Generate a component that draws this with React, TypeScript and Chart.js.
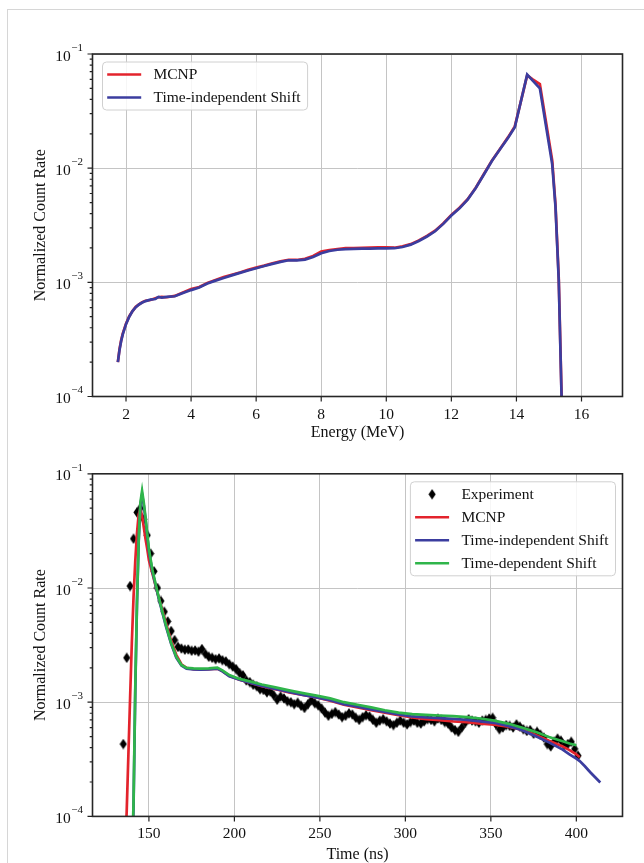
import React, { useEffect, useRef } from 'react';
import { Chart, registerables } from 'chart.js';

Chart.register(...registerables);

const FONT = '"Liberation Serif", "Times New Roman", serif';
const TEXT = '#111111';
const GRID = '#c4c4c4';
const RED = '#e3232c';
const BLUE = '#3b3d9f';
const GREEN = '#2fb54a';

// ---------- axis ticks ----------
const energyTicks = [2, 4, 6, 8, 10, 12, 14, 16];
const timeTicks = [150, 200, 250, 300, 350, 400];
const decadeTicks = [1e-4, 1e-3, 1e-2, 1e-1];

// ---------- top panel: energy spectrum ----------
const energyMeV = [
  1.75, 1.8, 1.85, 1.9, 2.0, 2.1, 2.2, 2.3, 2.4, 2.5, 2.6, 2.75, 2.9, 3.0, 3.1, 3.25,
  3.5, 3.75, 4.0, 4.25, 4.5, 4.75, 5.0, 5.25, 5.5, 5.75, 6.0, 6.25, 6.5, 6.75, 7.0, 7.25,
  7.5, 7.75, 8.0, 8.25, 8.5, 8.75, 9.0, 9.25, 9.5, 9.75, 10.0, 10.25, 10.5, 10.75, 11.0, 11.25,
  11.5, 11.75, 12.0, 12.25, 12.5, 12.75, 13.0, 13.25, 13.5, 13.75, 13.95, 14.33, 14.5, 14.72,
  15.1, 15.2, 15.3, 15.38, 15.45,
];
const mcnpEnergyRate = [
  2.0e-4, 2.6e-4, 3.1e-4, 3.55e-4, 4.35e-4, 5.05e-4, 5.6e-4, 6.1e-4, 6.4e-4, 6.7e-4, 6.9e-4, 7.0e-4, 7.25e-4, 7.4e-4, 7.45e-4, 7.4e-4,
  7.6e-4, 8.15e-4, 8.75e-4, 9.1e-4, 9.85e-4, 1.05e-3, 1.11e-3, 1.165e-3, 1.22e-3, 1.285e-3, 1.345e-3, 1.4e-3, 1.47e-3, 1.53e-3, 1.575e-3, 1.57e-3,
  1.61e-3, 1.7e-3, 1.86e-3, 1.92e-3, 1.96e-3, 1.99e-3, 1.99e-3, 2.0e-3, 2.01e-3, 2.02e-3, 2.02e-3, 2.01e-3, 2.07e-3, 2.16e-3, 2.33e-3, 2.55e-3,
  2.83e-3, 3.28e-3, 3.9e-3, 4.5e-3, 5.35e-3, 6.75e-3, 8.9e-3, 1.17e-2, 1.48e-2, 1.88e-2, 2.32e-2, 6.5e-2, 6.0e-2, 5.45e-2,
  1.17e-2, 4.8e-3, 1.1e-3, 1.25e-4, 2.2e-5,
];
const shiftEnergyRate = [
  2.0e-4, 2.55e-4, 3.05e-4, 3.5e-4, 4.3e-4, 5.0e-4, 5.6e-4, 6.05e-4, 6.4e-4, 6.65e-4, 6.85e-4, 7.05e-4, 7.15e-4, 7.45e-4, 7.35e-4, 7.45e-4,
  7.55e-4, 8.05e-4, 8.55e-4, 9.0e-4, 9.75e-4, 1.035e-3, 1.09e-3, 1.15e-3, 1.21e-3, 1.27e-3, 1.33e-3, 1.39e-3, 1.45e-3, 1.51e-3, 1.56e-3, 1.56e-3,
  1.58e-3, 1.67e-3, 1.8e-3, 1.88e-3, 1.93e-3, 1.95e-3, 1.96e-3, 1.97e-3, 1.97e-3, 1.98e-3, 1.98e-3, 1.99e-3, 2.04e-3, 2.14e-3, 2.3e-3, 2.52e-3,
  2.8e-3, 3.25e-3, 3.85e-3, 4.45e-3, 5.3e-3, 6.7e-3, 8.8e-3, 1.16e-2, 1.47e-2, 1.86e-2, 2.28e-2, 6.6e-2, 5.85e-2, 5.0e-2,
  1.08e-2, 4.6e-3, 1.05e-3, 1.2e-4, 2e-5,
];

// ---------- bottom panel: time spectrum ----------
const simTimeNs = [
  130, 134, 136, 137, 138, 139, 140, 141, 142, 143, 144, 145, 146, 147, 148, 149,
  150, 152, 154, 156, 158, 160, 163, 166, 169, 172, 176, 180, 185, 190, 193, 197,
  203, 209, 216, 224, 232, 240, 248, 256, 264, 272, 280, 288, 296, 304, 312, 320,
  328, 336, 344, 352, 360, 368, 376, 384, 392, 396, 400, 402, 405, 408, 411, 414,
];
const mcnpTimeRate = [
  1e-6, 1.5e-5, 5e-5, 1.1e-4, 3.5e-4, 1.1e-3, 3.3e-3, 8.3e-3, 1.7e-2, 3.0e-2, 4.4e-2, 4.9e-2, 4.3e-2, 3.4e-2, 2.7e-2, 2.2e-2,
  1.75e-2, 1.35e-2, 1.03e-2, 8.0e-3, 6.3e-3, 4.9e-3, 3.45e-3, 2.6e-3, 2.15e-3, 2.0e-3, 1.95e-3, 1.94e-3, 1.95e-3, 1.97e-3, 1.87e-3, 1.7e-3,
  1.57e-3, 1.48e-3, 1.38e-3, 1.3e-3, 1.22e-3, 1.16e-3, 1.1e-3, 1.03e-3, 9.5e-4, 9.0e-4, 8.5e-4, 8.1e-4, 7.7e-4, 7.35e-4, 7.1e-4, 6.95e-4,
  6.8e-4, 6.7e-4, 6.5e-4, 6.35e-4, 6.1e-4, 5.75e-4, 5.2e-4, 4.6e-4, 4.1e-4, 3.8e-4, 3.5e-4, 3.3e-4, null, null, null, null,
];
const tiShiftTimeRate = [
  null, null, null, 3e-6, 8e-6, 2e-5, 3.5e-5, 1.2e-4, 1.2e-3, 7.0e-3, 2.5e-2, 5.3e-2, 6.6e-2, 5.3e-2, 4.0e-2, 2.9e-2,
  2.1e-2, 1.4e-2, 1.04e-2, 7.8e-3, 6.0e-3, 4.6e-3, 3.25e-3, 2.45e-3, 2.1e-3, 1.97e-3, 1.94e-3, 1.93e-3, 1.94e-3, 1.97e-3, 1.86e-3, 1.69e-3,
  1.57e-3, 1.48e-3, 1.39e-3, 1.31e-3, 1.23e-3, 1.16e-3, 1.1e-3, 1.04e-3, 9.6e-4, 9.15e-4, 8.65e-4, 8.2e-4, 7.8e-4, 7.5e-4, 7.35e-4, 7.25e-4,
  7.15e-4, 7.0e-4, 6.8e-4, 6.6e-4, 6.2e-4, 5.7e-4, 5.05e-4, 4.45e-4, 3.85e-4, 3.5e-4, 3.2e-4, 3.05e-4, 2.75e-4, 2.45e-4, 2.2e-4, 1.98e-4,
];
const tdShiftTimeRate = [
  null, null, null, 4e-6, 1e-5, 2.5e-5, 4e-5, 1.3e-4, 1.3e-3, 7.5e-3, 2.6e-2, 5.6e-2, 7.1e-2, 5.6e-2, 4.2e-2, 3.0e-2,
  2.2e-2, 1.45e-2, 1.07e-2, 8.0e-3, 6.1e-3, 4.7e-3, 3.3e-3, 2.5e-3, 2.12e-3, 2.0e-3, 1.98e-3, 1.97e-3, 1.98e-3, 2.01e-3, 1.9e-3, 1.73e-3,
  1.6e-3, 1.52e-3, 1.43e-3, 1.35e-3, 1.27e-3, 1.2e-3, 1.14e-3, 1.08e-3, 1.0e-3, 9.5e-4, 9.0e-4, 8.5e-4, 8.1e-4, 7.85e-4, 7.75e-4, 7.65e-4,
  7.55e-4, 7.4e-4, 7.2e-4, 6.9e-4, 6.5e-4, 6.0e-4, 5.5e-4, 4.95e-4, 4.55e-4, 4.35e-4, 4.2e-4, null, null, null, null, null,
];
// experiment: [time (ns), normalized count rate]
const experimentPoints: [number, number][] = [
  [135, 4.3e-4], [137, 2.45e-3], [139, 1.04e-2], [141, 2.7e-2], [143, 4.6e-2], [145, 5.0e-2], [147, 4.0e-2], [149, 2.9e-2],
  [151, 2.0e-2], [153, 1.4e-2], [155, 1.0e-2], [157, 7.7e-3], [159, 6.2e-3], [161, 5.1e-3], [163, 4.2e-3], [165, 3.5e-3],
  [167, 3.05e-3], [169, 2.95e-3], [171, 2.88e-3], [173, 2.9e-3], [175, 2.82e-3], [177, 2.84e-3], [179, 2.77e-3], [181, 2.92e-3],
  [183, 2.65e-3], [185, 2.5e-3], [187, 2.45e-3], [189, 2.38e-3], [191, 2.42e-3], [193, 2.33e-3], [195, 2.28e-3], [197, 2.15e-3],
  [199, 2.05e-3], [201, 1.95e-3], [203, 1.8e-3], [205, 1.72e-3], [207, 1.55e-3], [209, 1.5e-3], [211, 1.42e-3], [213, 1.38e-3],
  [215, 1.3e-3], [217, 1.28e-3], [219, 1.22e-3], [221, 1.24e-3], [223, 1.15e-3], [225, 1.05e-3], [227, 1.12e-3], [229, 1.08e-3],
  [231, 1.02e-3], [233, 1.0e-3], [235, 9.6e-4], [237, 9.9e-4], [239, 9.3e-4], [241, 8.9e-4], [243, 9.6e-4], [245, 1.04e-3],
  [247, 9.8e-4], [249, 9.4e-4], [251, 8.8e-4], [253, 8.1e-4], [255, 7.6e-4], [257, 7.9e-4], [259, 8.2e-4], [261, 7.8e-4],
  [263, 7.4e-4], [265, 7.6e-4], [267, 8.0e-4], [269, 7.8e-4], [271, 7.3e-4], [273, 7.0e-4], [275, 7.4e-4], [277, 7.7e-4],
  [279, 7.5e-4], [281, 7.0e-4], [283, 6.6e-4], [285, 6.9e-4], [287, 7.1e-4], [289, 6.8e-4], [291, 6.5e-4], [293, 6.3e-4],
  [295, 6.6e-4], [297, 6.9e-4], [299, 6.6e-4], [301, 6.4e-4], [303, 6.7e-4], [305, 6.9e-4], [307, 6.6e-4], [309, 6.5e-4],
  [311, 6.8e-4], [313, 7.1e-4], [315, 7.0e-4], [317, 6.8e-4], [319, 7.2e-4], [321, 7.0e-4], [323, 6.7e-4], [325, 6.5e-4],
  [327, 6.0e-4], [329, 5.7e-4], [331, 5.5e-4], [333, 6.0e-4], [335, 6.6e-4], [337, 7.1e-4], [339, 6.9e-4], [341, 6.8e-4],
  [343, 6.6e-4], [345, 6.9e-4], [347, 7.0e-4], [349, 7.2e-4], [351, 7.3e-4], [353, 6.4e-4], [355, 5.8e-4], [357, 6.0e-4],
  [359, 6.3e-4], [361, 6.2e-4], [363, 6.0e-4], [365, 6.4e-4], [367, 6.1e-4], [369, 5.8e-4], [371, 5.6e-4], [373, 5.7e-4],
  [375, 5.3e-4], [377, 5.5e-4], [379, 5.2e-4], [381, 4.9e-4], [383, 4.3e-4], [385, 4.1e-4], [387, 4.5e-4], [389, 4.8e-4],
  [391, 4.6e-4], [393, 4.2e-4], [395, 4.3e-4], [397, 4.5e-4], [399, 3.9e-4], [401, 3.4e-4],
];

// ---------- helpers ----------
function pairs(xs: number[], ys: (number | null)[]) {
  return xs.map((x, i) => ({ x, y: ys[i] }));
}

function makeDiamond(): HTMLCanvasElement {
  const c = document.createElement('canvas');
  c.width = 8;
  c.height = 11;
  const g = c.getContext('2d')!;
  g.fillStyle = '#000';
  g.beginPath();
  g.moveTo(4, 0.2);
  g.lineTo(7.6, 5.5);
  g.lineTo(4, 10.8);
  g.lineTo(0.4, 5.5);
  g.closePath();
  g.fill();
  return c;
}

const decorPlugin = {
  id: 'decor',
  afterDraw(chart: any, _args: any, opts: any) {
    const { ctx, chartArea: a } = chart;
    const xs = chart.scales.x;
    const ys = chart.scales.y;
    ctx.save();

    // tick marks (outward): x majors, y majors + minors
    ctx.strokeStyle = '#222';
    ctx.lineWidth = 1.2;
    ctx.beginPath();
    xs.ticks.forEach((t: any) => {
      const px = xs.getPixelForValue(t.value);
      ctx.moveTo(px, a.bottom);
      ctx.lineTo(px, a.bottom + 5);
    });
    const lo = Math.round(Math.log10(ys.min));
    const hi = Math.round(Math.log10(ys.max));
    for (let k = lo; k <= hi; k++) {
      for (let m = 1; m <= 9; m++) {
        const v = m * Math.pow(10, k);
        if (v < ys.min * 0.999 || v > ys.max * 1.001) continue;
        const py = ys.getPixelForValue(v);
        const len = m === 1 ? 5 : 2.8;
        ctx.moveTo(a.left - len, py);
        ctx.lineTo(a.left, py);
      }
    }
    ctx.stroke();

    // axes frame
    ctx.strokeStyle = '#262626';
    ctx.lineWidth = 1.6;
    ctx.strokeRect(a.left, a.top, a.right - a.left, a.bottom - a.top);

    // y tick labels 10^n
    ctx.fillStyle = TEXT;
    ctx.textAlign = 'right';
    ctx.textBaseline = 'middle';
    ys.ticks.forEach((t: any) => {
      const py = ys.getPixelForValue(t.value);
      const e = Math.round(Math.log10(t.value));
      const sup = (e < 0 ? '\u2212' : '') + Math.abs(e);
      const right = a.left - 9.5;
      ctx.font = `11px ${FONT}`;
      const supW = ctx.measureText(sup).width;
      ctx.fillText(sup, right, py - 6);
      ctx.font = `15.5px ${FONT}`;
      ctx.fillText('10', right - supW - 0.5, py + 2.5);
    });

    // legend
    const items = chart.data.datasets.map((ds: any) => ({
      label: ds.label,
      color: ds.borderColor,
      marker: ds.showLine === false ? ds.pointStyle : null,
    }));
    ctx.font = `15.5px ${FONT}`;
    const textW = Math.max(...items.map((it: any) => ctx.measureText(it.label).width));
    const textOff = 51;
    const boxW = textOff + textW + 7;
    const rowH = 23;
    const padV = 12.5;
    const boxH = padV * 2 + rowH * (items.length - 1);
    const bx = opts.anchor === 'left' ? a.left + 10 : a.right - 7 - boxW;
    const by = a.top + 8;
    ctx.beginPath();
    if (ctx.roundRect) ctx.roundRect(bx, by, boxW, boxH, 4);
    else ctx.rect(bx, by, boxW, boxH);
    ctx.fillStyle = 'rgba(255,255,255,0.85)';
    ctx.fill();
    ctx.strokeStyle = '#d0d0d0';
    ctx.lineWidth = 1;
    ctx.stroke();
    items.forEach((it: any, i: number) => {
      const cy = by + padV + i * rowH;
      if (it.marker) {
        const m = it.marker as HTMLCanvasElement;
        ctx.drawImage(m, bx + 21.7 - m.width / 2, cy - m.height / 2);
      } else {
        ctx.strokeStyle = it.color;
        ctx.lineWidth = 2.6;
        ctx.beginPath();
        ctx.moveTo(bx + 4.7, cy);
        ctx.lineTo(bx + 38.7, cy);
        ctx.stroke();
      }
      ctx.fillStyle = TEXT;
      ctx.textAlign = 'left';
      ctx.textBaseline = 'middle';
      ctx.fillText(it.label, bx + textOff, cy + 0.5);
    });
    ctx.restore();
  },
};

function lineDs(label: string, color: string, data: any[], order: number) {
  return {
    label,
    data,
    borderColor: color,
    backgroundColor: color,
    borderWidth: 2.7,
    pointRadius: 0,
    tension: 0,
    fill: false,
    spanGaps: false,
    order,
  };
}

function axisOptions(cfg: {
  xMin: number; xMax: number; xTicks: number[]; xTitle: string; xHeight: number;
  tickPad: number; titlePadBottom: number;
}) {
  return {
    x: {
      type: 'linear',
      min: cfg.xMin,
      max: cfg.xMax,
      afterBuildTicks: (s: any) => { s.ticks = cfg.xTicks.map((v) => ({ value: v })); },
      afterFit: (s: any) => { s.height = cfg.xHeight; },
      ticks: { font: { family: FONT, size: 15.5 }, color: TEXT, padding: cfg.tickPad, maxRotation: 0, autoSkip: false },
      grid: { color: GRID, lineWidth: 1, drawTicks: false },
      border: { display: false },
      title: {
        display: true, text: cfg.xTitle, color: TEXT,
        font: { family: FONT, size: 16, lineHeight: 1 },
        padding: { top: 0, bottom: cfg.titlePadBottom },
      },
    },
    y: {
      type: 'logarithmic',
      min: 1e-4,
      max: 1e-1,
      afterBuildTicks: (s: any) => { s.ticks = decadeTicks.map((v) => ({ value: v })); },
      afterFit: (s: any) => { s.width = 92.5; },
      ticks: { display: false },
      grid: { color: GRID, lineWidth: 1, drawTicks: false },
      border: { display: false },
      title: {
        display: true, text: 'Normalized Count Rate', color: TEXT,
        font: { family: FONT, size: 16, lineHeight: 1 },
        padding: { top: 33, bottom: 0 },
      },
    },
  };
}

const TOP_H = 443;
const BOTTOM_H = 420;

export default function App() {
  const topRef = useRef<HTMLCanvasElement>(null);
  const botRef = useRef<HTMLCanvasElement>(null);

  useEffect(() => {
    const diamond = makeDiamond();

    const top = new Chart(topRef.current!, {
      type: 'line',
      data: {
        datasets: [
          lineDs('MCNP', RED, pairs(energyMeV, mcnpEnergyRate), 2),
          lineDs('Time-independent Shift', BLUE, pairs(energyMeV, shiftEnergyRate), 1),
        ],
      },
      options: {
        animation: false,
        responsive: false,
        devicePixelRatio: 1,
        events: [],
        layout: { padding: { top: 54, right: 21.5, left: 0, bottom: 0 } },
        plugins: { legend: { display: false }, tooltip: { enabled: false }, decor: { anchor: 'left' } } as any,
        scales: axisOptions({
          xMin: 0.97, xMax: 17.26, xTicks: energyTicks, xTitle: 'Energy (MeV)',
          xHeight: TOP_H - 396.5, tickPad: 9, titlePadBottom: 2,
        }) as any,
      },
      plugins: [decorPlugin],
    });

    const bottom = new Chart(botRef.current!, {
      type: 'line',
      data: {
        datasets: [
          {
            label: 'Experiment',
            data: experimentPoints.map(([x, y]) => ({ x, y })),
            showLine: false,
            pointStyle: diamond as any,
            pointRadius: 4,
            borderColor: '#000',
            backgroundColor: '#000',
            order: 4,
          } as any,
          lineDs('MCNP', RED, pairs(simTimeNs, mcnpTimeRate), 3),
          lineDs('Time-independent Shift', BLUE, pairs(simTimeNs, tiShiftTimeRate), 2),
          lineDs('Time-dependent Shift', GREEN, pairs(simTimeNs, tdShiftTimeRate), 1),
        ],
      },
      options: {
        animation: false,
        responsive: false,
        devicePixelRatio: 1,
        events: [],
        layout: { padding: { top: 30.8, right: 21.5, left: 0, bottom: 0 } },
        plugins: { legend: { display: false }, tooltip: { enabled: false }, decor: { anchor: 'right' } } as any,
        scales: axisOptions({
          xMin: 117, xMax: 427, xTicks: timeTicks, xTitle: 'Time (ns)',
          xHeight: BOTTOM_H - 373.4, tickPad: 8, titlePadBottom: 0,
        }) as any,
      },
      plugins: [decorPlugin],
    });

    return () => {
      top.destroy();
      bottom.destroy();
    };
  }, []);

  return (
    <div>
      <div
        style={{
          position: 'absolute', left: 7, top: 9, width: 637, height: 854,
          borderLeft: '1px solid #d6d6d6', borderTop: '1px solid #d6d6d6', boxSizing: 'border-box',
        }}
      />
      <canvas
        ref={topRef}
        width={644}
        height={TOP_H}
        style={{ position: 'absolute', left: 0, top: 0, width: 644, height: TOP_H }}
      />
      <canvas
        ref={botRef}
        width={644}
        height={BOTTOM_H}
        style={{ position: 'absolute', left: 0, top: TOP_H, width: 644, height: BOTTOM_H }}
      />
    </div>
  );
}
